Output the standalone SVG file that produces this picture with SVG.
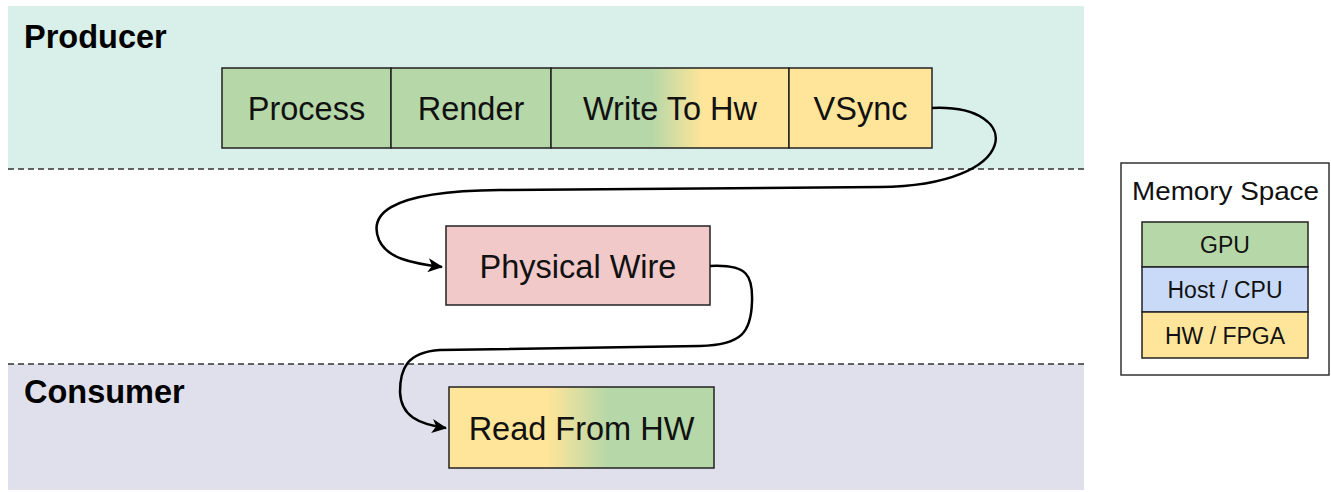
<svg xmlns="http://www.w3.org/2000/svg" width="1331" height="492" viewBox="0 0 1331 492">
  <style>
    .band-label { font-family: "Liberation Sans", Arial, sans-serif; font-weight: bold; font-size: 32.5px; fill: #000; }
    .box { stroke: #222; stroke-width: 1.5; }
    .label { font-family: "Liberation Sans", Arial, sans-serif; font-size: 32.5px; fill: #111; text-anchor: middle; dominant-baseline: central; }
    .legend-label { font-family: "Liberation Sans", Arial, sans-serif; font-size: 23px; fill: #111; text-anchor: middle; dominant-baseline: central; }
    .divider { stroke: #333; stroke-width: 1.5; stroke-dasharray: 6 4; }
    .conn { fill: none; stroke: #000; stroke-width: 2.5; marker-end: url(#arrow); }
  </style>
  <defs>
    <marker id="arrow" viewBox="0 0 15 14" refX="14" refY="7" markerWidth="15" markerHeight="14" markerUnits="userSpaceOnUse" orient="auto">
      <path d="M0,0 L15,7 L0,14 L4,7 z" fill="#000"/>
    </marker>
    <linearGradient id="gpuToHw" x1="0" y1="0" x2="1" y2="0">
      <stop offset="0.42" stop-color="#b6d7a8"/>
      <stop offset="0.64" stop-color="#ffe599"/>
    </linearGradient>
    <linearGradient id="hwToGpu" x1="0" y1="0" x2="1" y2="0">
      <stop offset="0.37" stop-color="#ffe599"/>
      <stop offset="0.60" stop-color="#b6d7a8"/>
    </linearGradient>
  </defs>

  <rect width="1331" height="492" fill="#fff"/>

  <!-- lanes -->
  <g id="producer-lane">
    <rect x="8" y="6" width="1076" height="163" fill="#d9efea"/>
    <text class="band-label" x="24" y="48">Producer</text>
  </g>
  <g id="consumer-lane">
    <rect x="8" y="364" width="1076" height="126" fill="#e0e0ec"/>
    <text class="band-label" x="24" y="403">Consumer</text>
  </g>
  <line class="divider" x1="8" y1="169" x2="1084" y2="169"/>
  <line class="divider" x1="8" y1="364" x2="1084" y2="364"/>

  <!-- producer stages -->
  <g id="process">
    <rect class="box" x="222" y="68" width="169" height="80" fill="#b6d7a8"/>
    <text class="label" x="306.5" y="109">Process</text>
  </g>
  <g id="render">
    <rect class="box" x="391" y="68" width="160" height="80" fill="#b6d7a8"/>
    <text class="label" x="471" y="109">Render</text>
  </g>
  <g id="write-to-hw">
    <rect class="box" x="551" y="68" width="238" height="80" fill="url(#gpuToHw)"/>
    <text class="label" x="670" y="109">Write To Hw</text>
  </g>
  <g id="vsync">
    <rect class="box" x="789" y="68" width="143" height="80" fill="#ffe599"/>
    <text class="label" x="860.5" y="109">VSync</text>
  </g>

  <g id="physical-wire">
    <rect class="box" x="446" y="226" width="264" height="79" fill="#f2c9c9"/>
    <text class="label" x="578" y="267">Physical Wire</text>
  </g>

  <g id="read-from-hw">
    <rect class="box" x="449" y="387" width="265" height="81" fill="url(#hwToGpu)"/>
    <text class="label" x="581.5" y="429">Read From HW</text>
  </g>

  <!-- connectors -->
  <g id="connectors">
    <path class="conn" d="M932,108 C1026,104 1022,186 880,187 L500,190 C380,191 370,218 379,240 C387,258 410,263 442,267"/>
    <path class="conn" d="M710,266 C748,264 753,276 752,302 C751,332 742,345 700,346 L440,350 C406,352 400,370 400,392 C401,416 418,424 446,428"/>
  </g>

  <!-- legend -->
  <g id="legend">
    <rect x="1121" y="163" width="208" height="212" fill="#fff" stroke="#333" stroke-width="1.5"/>
    <text class="legend-label" x="1225.5" y="191" style="font-size:25px" textLength="187" lengthAdjust="spacingAndGlyphs">Memory Space</text>
    <g id="legend-gpu">
      <rect class="box" x="1142" y="222" width="166" height="45" fill="#b6d7a8"/>
      <text class="legend-label" x="1225" y="245">GPU</text>
    </g>
    <g id="legend-host">
      <rect class="box" x="1142" y="267" width="166" height="45" fill="#c9daf8"/>
      <text class="legend-label" x="1225" y="290">Host / CPU</text>
    </g>
    <g id="legend-hw">
      <rect class="box" x="1142" y="312" width="166" height="46" fill="#ffe599"/>
      <text class="legend-label" x="1225" y="335.5">HW / FPGA</text>
    </g>
  </g>
</svg>
